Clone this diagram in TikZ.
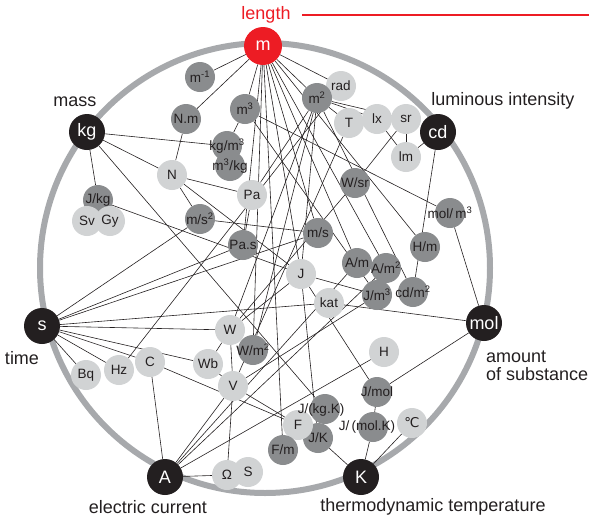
\documentclass[tikz,border=0pt]{standalone}
\usepackage{fontspec}
\setmainfont{Liberation Sans}
\newfontfamily\degfont{DejaVu Sans}
\usepackage{tikz}

\definecolor{ink}{RGB}{35,31,32}
\definecolor{ringgray}{RGB}{167,169,172}
\definecolor{ltgray}{RGB}{209,211,212}
\definecolor{dkgray}{RGB}{138,140,142}
\definecolor{sired}{RGB}{237,28,36}

\pgfdeclarelayer{links}
\pgfsetlayers{links,main}

\tikzset{
  unit/.style={circle, inner sep=0pt, minimum size=30pt, text=ink,
    font=\fontsize{13.5}{14}\selectfont,
    execute at begin node={\hbox to 0pt\bgroup\hss},
    execute at end node={\hss\egroup}},
  lite/.style={unit, fill=ltgray},
  dark/.style={unit, fill=dkgray},
  base/.style={unit, minimum size=36pt, fill=ink, text=white,
    font=\fontsize{18}{18}\selectfont},
  tag/.style={inner sep=0pt, text=ink, font=\fontsize{13.5}{14}\selectfont},
  caption/.style={inner sep=0pt, text=ink, font=\fontsize{18}{18.5}\selectfont},
  link/.style={draw=ink, line width=0.6pt}
}

\begin{document}
\begin{tikzpicture}[x=1pt,y=-1pt]
\useasboundingbox (0,0) rectangle (589,520);

\coordinate (hub) at (265,268);
\begin{pgfonlayer}{links}
\draw[ringgray, line width=6pt] (hub) circle[radius=225pt];
\end{pgfonlayer}

\node[base, fill=sired, minimum size=38pt] (m) at (263,46) {m};
\node[base] (kg) at (87,132) {kg};
\node[base] (cd) at (438,132) {cd};
\node[base] (s) at (42,326) {s};
\node[base] (mol) at (484,323) {mol};
\node[base] (A) at (165,477) {A};
\node[base] (K) at (361,477) {K};

\node[dark] (minv) at (200,77) {m\textsuperscript{-1}};
\node[dark] (Nm) at (186,119) {N.m};
\node[dark] (mcub) at (245,109) {m\textsuperscript{3}};
\node[lite] (rad) at (341,86) {rad};
\node[dark] (msq) at (317,98) {m\textsuperscript{2}};
\node[lite] (T) at (349,123) {T};
\node[lite] (lx) at (377,119) {lx};
\node[lite] (sr) at (406,119) {sr};
\node[lite] (lm) at (406,157) {lm};
\node[dark] (kgm) at (227,146) {kg/m\textsuperscript{3}};
\node[dark] (mkg) at (230,166) {m\textsuperscript{3}/kg};
\node[lite] (N) at (172,175) {N};
\node[lite] (Pa) at (252,195) {Pa};
\node[dark] (Jkg) at (98,200) {J/kg};
\node[lite] (Sv) at (87,221) {Sv};
\node[lite] (Gy) at (110,221) {Gy};
\node[dark] (macc) at (200,219) {m/s\textsuperscript{2}};
\node[dark] (Pas) at (243,245) {Pa.s};
\node[dark] (Wsr) at (355,183) {W/sr};
\node[dark] (molm) at (450,213) {mol/\,m\textsuperscript{3}};
\node[dark] (vel) at (318,233) {m/s};
\node[dark] (Hm) at (425,247) {H/m};
\node[dark] (Am) at (357,263) {A/m};
\node[dark] (Asq) at (386,268) {A/m\textsuperscript{2}};
\node[lite] (J) at (301,274) {J};
\node[dark] (Jm) at (377,295) {J/m\textsuperscript{3}};
\node[dark] (cdm) at (413,292) {cd/m\textsuperscript{2}};
\node[lite] (kat) at (329,303) {kat};
\node[lite] (W) at (230,330) {W};
\node[dark] (Wm) at (253,350) {W/m\textsuperscript{2}};
\node[lite] (Wb) at (208,364) {Wb};
\node[lite] (C) at (150,362) {C};
\node[lite] (Hz) at (119,370) {Hz};
\node[lite] (Bq) at (86,375) {Bq};
\node[lite] (V) at (233,386) {V};
\node[lite] (H) at (384,352) {H};
\node[dark] (Jmol) at (377,392) {J/mol};
\node[dark] (JkgK) at (325,409) {};
\node[dark] (JK) at (318,438) {J/K};
\node[lite] (F) at (298,425) {F};
\node[tag] (JkgKtxt) at (321,410) {J/(kg.K)};
\node[dark] (Fm) at (283,450) {F/m};
\node[lite] (degC) at (412,423) {{\degfont ℃}};
\node[dark] (JmolK) at (373,427) {};
\node[tag] (JmolKtxt) at (367,427) {J/\,(mol.K)};
\node[lite] (Om) at (227,475) {Ω};
\node[lite] (S) at (248,472) {S};

\begin{pgfonlayer}{links}
\foreach \a/\b in {m/minv, m/Nm, m/mcub, m/msq, m/rad, m/Pas, m/Wm, m/Fm,
    m/J, m/vel, m/Am, m/Asq, m/Hm,
    msq/Pa, msq/Wm, msq/J, msq/W, msq/T, msq/lx, msq/sr, msq/cdm,
    mcub/kgm, mcub/molm, mcub/Jm,
    kg/kgm, kg/N, kg/Jkg, kg/JkgK,
    N/Nm, N/Pa, N/macc, N/J, Pa/Pas, Jkg/J,
    macc/vel, macc/s, Pas/s, vel/s,
    s/kat, s/W, s/Wb, s/C, s/Hz, s/Bq, Hz/rad,
    W/J, W/Wsr, W/V, W/Wb, Wsr/sr, sr/lm, lx/lm, cd/lm, cd/cdm,
    T/V, V/A, V/Om, V/F, V/Jm, V/Wb, C/A, C/F, F/Fm,
    A/Am, A/Asq, A/H, A/Om,
    J/Jm, J/JK, J/Jmol, kat/mol, molm/mol,
    Jmol/mol, Jmol/JmolK, K/JK, K/JmolK, K/degC}
  \draw[link] (\a) -- (\b);
\end{pgfonlayer}

\node[caption, text=sired] (length) at (266,15) {length};
\coordinate (redA) at (302,15);
\coordinate (redB) at (589,15);
\draw[sired, line width=1.2pt] (redA) -- (redB);
\node[caption] (mass) at (75,102) {mass};
\node[caption] (lumi) at (503,101) {luminous intensity};
\node[caption] (time) at (22,358) {time};
\node[caption, anchor=west, align=left] (amount) at (486,366) {amount\\of substance};
\node[caption] (curr) at (148,507) {electric current};
\node[caption] (temp) at (433,507) {thermodynamic temperature};
\end{tikzpicture}
\end{document}
